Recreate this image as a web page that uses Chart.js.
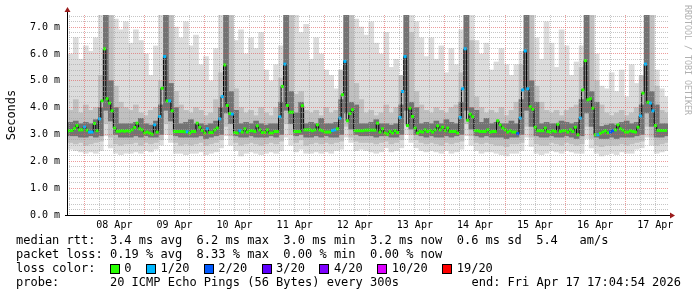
<!DOCTYPE html>
<html>
<head>
<meta charset="utf-8">
<script src="https://cdn.jsdelivr.net/npm/chart.js@4/dist/chart.umd.min.js"></script>
<style>
  html, body { margin: 0; padding: 0; background: #fff; }
</style>
</head>
<body>
<canvas id="myChart" width="697" height="297"></canvas>
<script>
// hourly median rtt (ms), first value = Apr 7 ~18:00
const median = [
  3.14,3.14,3.15,3.22,3.33,3.17,3.17,3.28,3.16,3.09,3.09,3.41,3.14,3.58,4.25,6.19,4.33,4.17,3.88,3.24,3.12,3.12,3.14,3.12,
  3.14,3.12,3.17,3.26,3.42,3.21,3.17,3.05,3.09,3.05,3.01,3.36,3.09,3.67,4.72,5.9,4.25,4.25,3.88,3.11,3.11,3.11,3.11,3.1,
  3.1,3.05,3.11,3.11,3.42,3.27,3.15,3.05,3.21,3.07,3.07,3.17,3.24,3.58,4.41,5.59,4.08,3.78,3.76,3.07,3.05,3.14,3.09,3.21,
  3.09,3.14,3.14,3.11,3.32,3.17,3.07,3.07,3.17,3.05,3.05,3.11,3.11,3.66,4.79,5.62,4.08,3.83,3.83,3.11,3.11,3.11,4.07,3.17,
  3.17,3.17,3.14,3.17,3.36,3.17,3.14,3.09,3.09,3.09,3.15,3.17,3.21,3.61,4.48,5.72,3.51,3.78,3.92,3.14,3.14,3.14,3.14,3.16,
  3.16,3.16,3.16,3.16,3.42,3.09,3.21,3.05,3.01,3.11,3.05,3.14,3.07,3.63,4.6,5.9,3.33,3.98,3.67,3.24,3.05,3.11,3.09,3.17,
  3.11,3.15,3.09,3.17,3.32,3.17,3.27,3.14,3.24,3.11,3.11,3.11,3.05,3.63,4.7,6.19,3.53,3.76,3.66,3.14,3.14,3.11,3.11,3.11,
  3.17,3.09,3.11,3.11,3.51,3.36,3.24,3.17,3.09,3.14,3.09,3.09,3.03,3.61,4.66,6.11,4.7,4.03,3.94,3.27,3.14,3.14,3.14,3.24,
  3.11,3.09,3.14,3.11,3.38,3.11,3.14,3.14,3.09,3.17,3.11,3.27,2.99,3.61,4.66,5.75,4.29,4.33,3.98,2.99,2.99,3.04,3.09,3.14,
  3.06,3.09,3.14,3.17,3.36,3.21,3.16,3.09,3.09,3.14,3.11,3.09,3.27,3.69,4.54,5.62,4.2,4.17,3.88,3.33,3.15,3.15,3.15,3.15
];

// hours with 1/20 and 2/20 packet loss
const loss1Hours = [7,9,10,13,35,37,39,41,48,56,61,62,66,69,85,87,106,107,109,111,133,134,135,
  157,158,159,181,182,183,184,205,212,229,231,233,234];
const loss2Hours = [180,217,218];

// smoke, two-hour columns: outer / middle / inner bands
const smokeLo1 = [
  2.45,2.4,2.35,2.3,2.35,2.3,2.4,2.95,2.5,2.3,2.25,2.3,
  2.3,2.35,2.3,2.4,2.35,2.45,2.6,3.0,2.7,2.3,2.3,2.25,
  2.3,2.3,2.35,2.25,2.3,2.35,2.5,2.95,2.6,2.4,2.2,2.3,
  2.35,2.3,2.25,2.3,2.35,2.3,2.4,2.9,2.6,2.35,2.45,2.3,
  2.3,2.35,2.3,2.35,2.3,2.4,2.45,2.9,2.7,2.4,2.45,2.4,
  2.35,2.3,2.35,2.5,2.35,2.4,2.5,3.0,2.7,2.5,2.4,2.35,
  2.4,2.35,2.3,2.4,2.3,2.35,2.45,2.95,2.6,2.4,2.3,2.35,
  2.35,2.3,2.25,2.2,2.3,2.3,2.4,2.9,2.55,2.3,2.25,2.3,
  2.4,2.35,2.3,2.4,2.35,2.3,2.3,2.85,2.5,2.3,2.2,2.25,
  2.3,2.25,2.35,2.3,2.3,2.45,2.5,2.9,2.6,2.3,2.35,2.4
];
const smokeHi1 = [
  6.0,6.6,5.8,6.3,6.1,6.6,7.45,7.45,7.45,7.3,6.9,7.2,
  6.4,6.9,6.5,6.0,5.2,6.3,7.45,7.45,7.45,7.0,6.6,7.2,
  6.3,6.7,5.6,5.9,5.0,6.2,7.45,7.45,7.0,6.5,6.9,6.0,
  6.6,6.2,6.8,5.4,5.0,5.6,6.3,7.45,7.45,7.45,6.8,7.1,
  5.8,6.6,6.0,5.4,5.2,4.7,4.5,7.45,7.45,7.3,7.0,6.7,
  7.2,6.4,6.0,6.8,5.5,5.8,5.2,7.45,7.45,7.2,6.6,5.9,
  6.6,5.8,6.3,5.3,6.2,5.6,6.9,7.45,7.45,6.5,6.0,6.4,
  5.4,5.7,6.2,5.6,5.2,5.6,6.1,7.45,7.45,6.6,5.8,7.2,
  6.4,5.5,6.9,6.3,5.2,5.7,6.3,7.45,7.45,6.0,4.8,4.7,
  5.3,4.6,5.4,4.4,5.6,4.9,5.1,7.45,7.45,5.4,4.7,4.4
];
const smokeLo2 = [
  2.7,2.65,2.7,2.6,2.65,2.7,2.75,3.4,2.9,2.65,2.6,2.65,
  2.65,2.7,2.6,2.7,2.65,2.7,2.8,3.4,3.0,2.7,2.6,2.65,
  2.6,2.65,2.7,2.6,2.65,2.7,2.8,3.3,2.95,2.7,2.6,2.65,
  2.7,2.65,2.6,2.65,2.7,2.65,2.75,3.4,3.0,2.7,2.8,2.6,
  2.65,2.7,2.65,2.7,2.65,2.7,2.75,3.3,2.9,2.75,2.7,2.7,
  2.7,2.65,2.7,2.75,2.65,2.7,2.8,3.4,3.0,2.8,2.7,2.65,
  2.7,2.65,2.6,2.7,2.65,2.7,2.75,3.4,2.95,2.7,2.65,2.7,
  2.65,2.6,2.6,2.55,2.65,2.65,2.7,3.3,2.9,2.65,2.6,2.6,
  2.7,2.65,2.6,2.7,2.65,2.6,2.65,3.3,2.85,2.6,2.55,2.6,
  2.6,2.6,2.65,2.6,2.65,2.7,2.75,3.3,2.9,2.6,2.65,2.7
];
const smokeHi2 = [
  3.9,4.3,3.8,4.1,3.9,4.0,5.2,7.45,7.45,4.8,4.2,4.0,
  3.9,4.1,3.8,3.7,3.9,4.0,5.0,7.45,7.45,4.6,4.1,3.9,
  3.8,4.0,3.9,3.7,3.8,4.3,5.3,7.45,7.45,4.7,4.0,3.8,
  3.9,3.7,4.0,3.8,3.7,4.0,5.1,7.45,7.45,4.5,4.6,3.9,
  3.8,3.9,3.7,4.0,3.8,3.9,5.4,7.45,7.45,4.9,4.3,3.8,
  3.9,3.7,3.8,4.1,3.8,4.0,5.2,7.45,6.8,4.6,4.1,3.9,
  3.8,4.0,3.9,3.8,4.0,4.1,5.3,7.45,6.5,4.4,4.0,3.8,
  3.9,3.8,4.0,3.7,3.9,4.2,5.6,7.45,7.45,4.8,4.2,3.9,
  3.8,3.9,3.7,3.9,4.0,4.1,5.5,7.45,7.45,5.0,4.1,3.8,
  3.7,3.8,3.9,3.7,3.8,4.0,5.2,7.45,7.45,4.8,3.9,3.8
];
const smokeLo3 = [
  2.95,2.95,2.9,2.9,2.95,2.9,2.95,3.9,3.5,3.0,2.9,2.9,
  2.9,2.95,2.9,2.95,2.9,2.9,3.0,3.9,3.5,2.95,2.9,2.9,
  2.9,2.9,2.95,2.85,2.9,2.95,3.0,3.8,3.4,2.95,2.9,2.9,
  2.95,2.9,2.9,2.9,2.95,2.9,3.0,3.9,3.4,2.95,3.0,2.9,
  2.9,2.95,2.9,2.95,2.9,2.9,3.0,3.8,3.2,3.0,2.95,2.95,
  2.95,2.9,2.95,2.95,2.9,2.9,3.0,3.9,3.2,3.0,2.95,2.9,
  2.95,2.9,2.9,2.95,2.9,2.95,3.0,3.9,3.2,2.95,2.9,2.95,
  2.9,2.9,2.9,2.85,2.9,2.9,3.0,3.9,3.3,2.95,2.9,2.9,
  2.95,2.9,2.9,2.95,2.9,2.85,2.95,3.8,3.3,2.9,2.85,2.85,
  2.9,2.85,2.9,2.9,2.9,2.95,3.0,3.8,3.3,2.9,2.9,2.95
];
const smokeHi3 = [
  3.45,3.5,3.4,3.45,3.4,3.55,4.0,7.45,5.0,4.0,3.4,3.4,
  3.4,3.45,3.6,3.4,3.35,3.5,4.1,7.45,4.9,4.0,3.4,3.45,
  3.55,3.4,3.4,3.35,3.4,3.5,4.0,7.45,4.6,3.9,3.4,3.45,
  3.4,3.5,3.4,3.35,3.4,3.4,4.2,7.45,4.6,3.8,4.2,3.4,
  3.45,3.4,3.6,3.4,3.4,3.45,4.3,7.45,4.2,4.1,3.4,3.4,
  3.45,3.55,3.4,3.4,3.35,3.4,4.1,7.45,4.2,4.0,3.4,3.45,
  3.4,3.5,3.4,3.55,3.45,3.4,4.2,7.45,4.0,3.9,3.45,3.6,
  3.4,3.45,3.4,3.4,3.5,3.4,4.3,7.45,5.0,4.2,3.4,3.45,
  3.4,3.4,3.5,3.45,3.4,3.45,4.3,7.45,4.6,4.2,3.3,3.35,
  3.4,3.35,3.45,3.5,3.4,3.45,4.1,7.45,4.6,4.1,3.4,3.4
];

const dayLabels = ['08 Apr','09 Apr','10 Apr','11 Apr','12 Apr','13 Apr','14 Apr','15 Apr','16 Apr','17 Apr'];
const lossLabels = ['0','1/20','2/20','3/20','4/20','10/20','19/20'];
const lossColors = ['#26ff00','#00b8ff','#0059ff','#5e00ff','#7e00ff','#dd00ff','#ff0000'];
const statLines = [
  'median rtt:  3.4 ms avg  6.2 ms max  3.0 ms min  3.2 ms now  0.6 ms sd  5.4   am/s',
  'packet loss: 0.19 % avg  8.33 % max  0.00 % min  0.00 % now',
  'loss color:',
  'probe:       20 ICMP Echo Pings (56 Bytes) every 300s'
];
const endText = 'end: Fri Apr 17 17:04:54 2026';

// first midnight (Apr 8 00:00) in hours after graph start (Apr 7 17:04:54)
const firstMidnight = 6 + 55 / 60 + 6 / 3600;

const mono = '"DejaVu Sans Mono", monospace';
const majorGrid = 'rgba(225,90,90,0.6)';
const minorGrid = 'rgba(160,160,160,0.6)';

function band(lo, hi, color, order) {
  return {
    type: 'bar',
    data: lo.map((v, i) => ({ x: 2 * i + 1.5, y: [v, hi[i]] })),
    backgroundColor: color,
    borderWidth: 0,
    grouped: false,
    barPercentage: 1,
    categoryPercentage: 1,
    order: order
  };
}

const pointColors = median.map((v, h) => {
  if (loss2Hours.includes(h)) return lossColors[2];
  if (loss1Hours.includes(h)) return lossColors[1];
  return lossColors[0];
});

const decor = {
  id: 'decor',
  afterDraw(chart) {
    const { ctx, chartArea: a } = chart;
    ctx.save();
    // axes with arrows
    ctx.strokeStyle = '#000';
    ctx.lineWidth = 1;
    ctx.beginPath();
    ctx.moveTo(a.left + 0.5, a.bottom + 0.5);
    ctx.lineTo(a.left + 0.5, a.top - 3);
    ctx.moveTo(a.left - 2, a.bottom + 0.5);
    ctx.lineTo(a.right + 2, a.bottom + 0.5);
    ctx.stroke();
    ctx.fillStyle = '#9b1c1c';
    ctx.beginPath();
    ctx.moveTo(a.left + 0.5, a.top - 8);
    ctx.lineTo(a.left - 2.5, a.top - 3);
    ctx.lineTo(a.left + 3.5, a.top - 3);
    ctx.closePath();
    ctx.fill();
    ctx.beginPath();
    ctx.moveTo(a.right + 7, a.bottom + 0.5);
    ctx.lineTo(a.right + 2, a.bottom - 2.5);
    ctx.lineTo(a.right + 2, a.bottom + 3.5);
    ctx.closePath();
    ctx.fill();

    // watermark
    ctx.save();
    ctx.translate(687, 5);
    ctx.rotate(Math.PI / 2);
    ctx.font = '8.3px ' + mono;
    ctx.fillStyle = '#b0b0b0';
    ctx.textBaseline = 'middle';
    ctx.fillText('RRDTOOL / TOBI OETIKER', 0, 0);
    ctx.restore();

    // legend block
    ctx.font = '12px ' + mono;
    ctx.fillStyle = '#000';
    ctx.textBaseline = 'middle';
    const cw = ctx.measureText('0').width;
    const x0 = 16;
    const rowY = [241, 255, 269, 283];
    statLines.forEach((s, i) => ctx.fillText(s, x0, rowY[i]));
    ctx.textAlign = 'right';
    ctx.fillText(endText, 681, rowY[3]);
    ctx.textAlign = 'left';

    let col = 13;
    lossLabels.forEach((lab, i) => {
      const bx = Math.round(x0 + col * cw);
      ctx.fillStyle = lossColors[i];
      ctx.fillRect(bx, rowY[2] - 5, 10, 10);
      ctx.strokeStyle = '#000';
      ctx.strokeRect(bx + 0.5, rowY[2] - 4.5, 9, 9);
      ctx.fillStyle = '#000';
      ctx.fillText(lab, x0 + (col + 2) * cw, rowY[2]);
      col += 2 + lab.length + 2;
    });
    ctx.restore();
  }
};

new Chart(document.getElementById('myChart'), {
  type: 'line',
  data: {
    datasets: [
      band(smokeLo1, smokeHi1, '#dcdcdc', 10),
      band(smokeLo2, smokeHi2, '#c0c0c0', 9),
      band(smokeLo3, smokeHi3, '#737373', 8),
      {
        type: 'line',
        data: median.map((v, h) => ({ x: h, y: v })),
        borderColor: '#000',
        borderWidth: 1,
        stepped: 'middle',
        pointRadius: 0,
        order: 2
      },
      {
        type: 'line',
        data: median.map((v, h) => ({ x: h, y: v })),
        showLine: false,
        pointStyle: 'rect',
        pointRadius: 2.1,
        pointBorderWidth: 0,
        pointBackgroundColor: pointColors,
        order: 1
      }
    ]
  },
  options: {
    responsive: false,
    animation: false,
    devicePixelRatio: 1,
    layout: { padding: { top: 15, right: 29, bottom: 0, left: 0 } },
    plugins: { legend: { display: false }, tooltip: { enabled: false } },
    scales: {
      x: {
        type: 'linear',
        min: 0,
        max: 240,
        offset: false,
        afterFit: s => { s.height = 82; },
        afterBuildTicks: s => {
          const t = [];
          for (let i = 0; firstMidnight - 6 + 6 * i <= 240; i++) {
            t.push({ value: firstMidnight - 6 + 6 * i, kind: i % 4 });
          }
          s.ticks = t;
        },
        grid: {
          z: 1,
          offset: false,
          drawTicks: false,
          color: c => (c.tick && c.tick.kind === 1) ? majorGrid : minorGrid
        },
        border: { display: false, dash: [1, 1] },
        ticks: {
          autoSkip: false,
          maxRotation: 0,
          padding: 4,
          color: '#000',
          font: { family: mono, size: 10 },
          callback: function (value, index) {
            const t = this.ticks[index];
            return t && t.kind === 3 ? dayLabels[(index - 3) / 4] : '';
          }
        }
      },
      y: {
        min: 0,
        max: 7.45,
        afterFit: s => { s.width = 67; },
        grid: {
          z: 1,
          drawTicks: false,
          color: c => (c.tick && Math.abs(c.tick.value - Math.round(c.tick.value)) < 1e-6) ? majorGrid : minorGrid
        },
        border: { display: false, dash: [1, 1] },
        title: {
          display: true,
          text: 'Seconds',
          color: '#000',
          padding: { top: 5, bottom: 0 },
          font: { family: mono, size: 12 }
        },
        ticks: {
          stepSize: 0.2,
          includeBounds: false,
          autoSkip: false,
          padding: 7,
          color: '#000',
          font: { family: mono, size: 10 },
          callback: v => Math.abs(v - Math.round(v)) < 1e-6 ? Math.round(v).toFixed(1) + ' m' : ''
        }
      }
    }
  },
  plugins: [decor]
});
</script>
</body>
</html>
